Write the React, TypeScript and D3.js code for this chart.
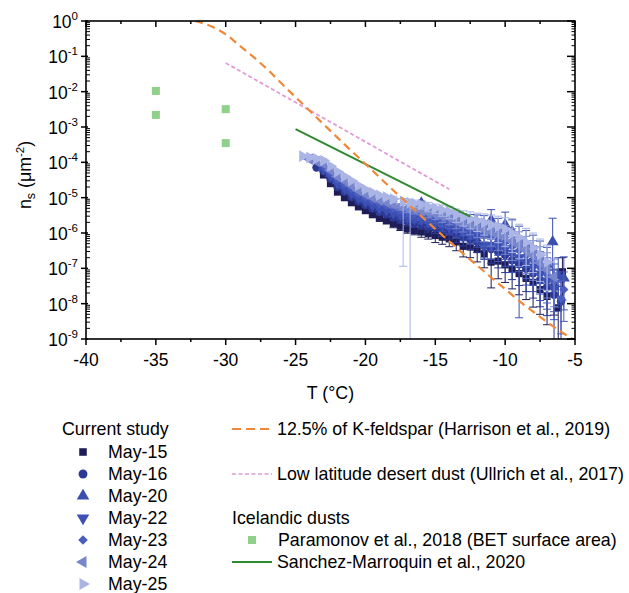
import * as d3 from 'd3';

// ---- data ------------------------------------------------------------
// [T (°C), ns (µm^-2), lower error (decades), upper error (decades)]
type Pt = [number, number, number?, number?];

const xTicks = [-40, -35, -30, -25, -20, -15, -10, -5];
const xMinorTicks = [-37.5, -32.5, -27.5, -22.5, -17.5, -12.5, -7.5];
const yExponents = [0, -1, -2, -3, -4, -5, -6, -7, -8, -9];

const may15: Pt[] = [
  [-23, 4.4e-5], [-22.5, 2.5e-5], [-22, 1.44e-5], [-21.5, 1.0e-5], [-21, 7.2e-6], [-20.5, 5.5e-6],
  [-20, 4.3e-6], [-19.5, 3.3e-6], [-19, 2.6e-6], [-18.5, 2.2e-6], [-18, 1.86e-6, 0.12, 0.1],
  [-17.5, 1.55e-6, 0.12, 0.1], [-17, 1.3e-6, 0.12, 0.1], [-16.5, 1.17e-6, 0.12, 0.1], [-16, 1.07e-6, 0.15, 0.1],
  [-15.5, 9.5e-7, 0.15, 0.1], [-15, 8.5e-7, 0.2, 0.15], [-14.5, 7.6e-7, 0.2, 0.15], [-14, 6.8e-7, 0.22, 0.15],
  [-13.5, 5.6e-7, 0.25, 0.18], [-13, 4.2e-7, 0.3, 0.2], [-12.5, 4.0e-7, 0.3, 0.2], [-12, 3.4e-7, 0.35, 0.25],
  [-11.5, 2.6e-7, 0.4, 0.3], [-11, 1.5e-7, 0.73, 0.4], [-10.5, 1.6e-7, 0.5, 0.35], [-10, 1.26e-7, 0.5, 0.35],
  [-9.5, 9.3e-8, 0.55, 0.4], [-9, 7.1e-8, 0.6, 0.4], [-8.5, 5.2e-8, 0.6, 0.4], [-8, 4.0e-8, 0.7, 0.45],
  [-7.5, 2.5e-8, 0.7, 0.45], [-7, 1.6e-8, 0.8, 0.5], [-6.5, 3.0e-8, 0.8, 0.5], [-6.2, 7.6e-9, 2, 0.6],
  [-5.9, 8.0e-8, 0.8, 0.4],
];

const may16: Pt[] = [
  [-23.5, 7.1e-5], [-23, 5.6e-5], [-22.5, 3.4e-5], [-22, 2.0e-5], [-21.5, 1.48e-5], [-21, 1.05e-5],
  [-20.5, 7.9e-6], [-20, 6.2e-6], [-19.5, 4.9e-6], [-19, 3.9e-6], [-18.5, 3.4e-6], [-18, 2.8e-6, 0.1, 0.08],
  [-17.5, 2.4e-6, 0.1, 0.08], [-17, 2.1e-6, 0.12, 0.1], [-16.5, 1.9e-6, 0.12, 0.1], [-16, 1.7e-6, 0.12, 0.1],
  [-15.5, 1.5e-6, 0.15, 0.12], [-15, 1.35e-6, 0.15, 0.12], [-14.5, 1.2e-6, 0.18, 0.14], [-14, 1.07e-6, 0.2, 0.15],
  [-13.5, 8.9e-7, 0.22, 0.16], [-13, 7.6e-7, 0.25, 0.18], [-12.5, 6.5e-7, 0.28, 0.2], [-12, 5.6e-7, 0.3, 0.22],
  [-11.5, 4.4e-7, 0.35, 0.25], [-11, 3.5e-7, 0.4, 0.28], [-10.5, 2.9e-7, 0.45, 0.3], [-10, 2.4e-7, 0.5, 0.32],
  [-9.5, 1.7e-7, 0.55, 0.35], [-9, 1.3e-7, 0.6, 0.38], [-8.5, 9.8e-8, 0.65, 0.4], [-8, 7.2e-8, 0.7, 0.42],
  [-7.5, 4.6e-8, 0.75, 0.45], [-7, 2.9e-8, 0.8, 0.48], [-6.5, 1.8e-8, 1.5, 0.5], [-6, 1.15e-8, 1.2, 0.55],
];

const may20: Pt[] = [
  [-23, 7.5e-5], [-22.5, 4.8e-5], [-22, 3.0e-5], [-21.5, 2.2e-5], [-21, 1.6e-5], [-20.5, 1.23e-5],
  [-20, 9.3e-6], [-19.5, 7.6e-6], [-19, 6.2e-6], [-18.5, 5.4e-6], [-18, 4.7e-6, 0.1, 0.08],
  [-17.5, 4.0e-6, 0.1, 0.08], [-17, 3.9e-6, 0.12, 0.1], [-16.5, 4.0e-6, 0.12, 0.1], [-16, 7.0e-6, 0.15, 0.06],
  [-15.5, 3.7e-6, 0.15, 0.12], [-15, 3.4e-6, 0.15, 0.12], [-14.5, 3.2e-6, 0.18, 0.14], [-14, 3.0e-6, 0.2, 0.15],
  [-13.5, 2.6e-6, 0.22, 0.16], [-13, 2.3e-6, 0.25, 0.18], [-12.5, 2.1e-6, 0.28, 0.2], [-12, 1.95e-6, 0.3, 0.22],
  [-11.5, 1.74e-6, 0.35, 0.25], [-11, 2.3e-6, 0.4, 0.3], [-10.5, 1.3e-6, 0.45, 0.3], [-10, 1.7e-6, 0.5, 0.36],
  [-9.5, 1.1e-6, 0.55, 0.35], [-9, 6.5e-7, 0.6, 0.38], [-8.5, 4.7e-7, 0.65, 0.4], [-8, 3.3e-7, 0.7, 0.42],
  [-7.5, 2.1e-7, 0.75, 0.45], [-7, 1.3e-7, 0.8, 0.48], [-6.6, 5.6e-7, 0.95, 0.67], [-6.2, 6.3e-8, 0.9, 0.5],
  [-5.8, 5.3e-8, 0.9, 0.6],
];

const may22: Pt[] = [
  [-23, 6.6e-5], [-22.5, 4.2e-5], [-22, 2.6e-5], [-21.5, 1.86e-5], [-21, 1.38e-5], [-20.5, 1.02e-5],
  [-20, 7.9e-6], [-19.5, 6.3e-6], [-19, 5.1e-6], [-18.5, 4.5e-6], [-18, 3.8e-6, 0.1, 0.08],
  [-17.5, 3.3e-6, 0.1, 0.08], [-17, 2.8e-6, 0.12, 0.1], [-16.5, 2.6e-6, 0.12, 0.1], [-16, 2.4e-6, 0.12, 0.1],
  [-15.5, 2.1e-6, 0.15, 0.12], [-15, 1.9e-6, 0.15, 0.12], [-14.5, 1.7e-6, 0.18, 0.14], [-14, 1.5e-6, 0.2, 0.15],
  [-13.5, 1.26e-6, 0.22, 0.16], [-13, 1.07e-6, 0.25, 0.18], [-12.5, 9.1e-7, 0.28, 0.2], [-12, 7.9e-7, 0.3, 0.22],
  [-11.5, 4.0e-7, 0.35, 0.25], [-11, 4.5e-7, 0.4, 0.28], [-10.5, 4.4e-7, 0.45, 0.3], [-10, 3.6e-7, 0.5, 0.32],
  [-9.5, 2.7e-7, 0.55, 0.35], [-9, 2.0e-7, 1.7, 0.4], [-8.5, 1.5e-7, 0.65, 0.4], [-8, 1.1e-7, 0.7, 0.42],
  [-7.5, 6.9e-8, 0.75, 0.45], [-7, 4.4e-8, 0.8, 0.48], [-6.5, 2.8e-8, 0.9, 0.5],
];

const may23: Pt[] = [
  [-23, 7.9e-5], [-22.5, 5.1e-5], [-22, 3.3e-5], [-21.5, 2.4e-5], [-21, 1.8e-5], [-20.5, 1.3e-5],
  [-20, 1.02e-5], [-19.5, 8.3e-6], [-19, 6.8e-6], [-18.5, 5.9e-6], [-18, 5.1e-6, 0.1, 0.08],
  [-17.5, 4.5e-6, 0.1, 0.08], [-17, 3.9e-6, 0.12, 0.1], [-16.5, 3.5e-6, 0.12, 0.1], [-16, 3.3e-6, 0.12, 0.1],
  [-15.5, 3.0e-6, 0.15, 0.12], [-15, 2.6e-6, 0.15, 0.12], [-14.5, 2.3e-6, 0.18, 0.14], [-14, 2.1e-6, 0.2, 0.15],
  [-13.5, 1.74e-6, 0.22, 0.16], [-13, 1.5e-6, 0.25, 0.18], [-12.5, 1.3e-6, 0.28, 0.2], [-12, 1.12e-6, 0.3, 0.22],
  [-11.5, 9.3e-7, 0.35, 0.25], [-11, 7.8e-7, 0.4, 0.28], [-10.5, 6.6e-7, 0.45, 0.3], [-10, 5.6e-7, 0.5, 0.32],
  [-9.5, 4.2e-7, 0.55, 0.35], [-9, 3.2e-7, 0.6, 0.38], [-8.5, 2.3e-7, 0.65, 0.4], [-8, 1.66e-7, 0.7, 0.42],
  [-7.5, 1.05e-7, 0.75, 0.45], [-7, 6.6e-8, 0.8, 0.48], [-6.5, 4.2e-8, 0.85, 0.5], [-6, 1.4e-8, 1.0, 0.5],
  [-5.8, 2.5e-8, 0.9, 0.5],
];

const may24: Pt[] = [
  [-24, 1.23e-4], [-23.5, 1.05e-4], [-23, 9.1e-5], [-22.5, 6.0e-5], [-22, 4.0e-5], [-21.5, 3.0e-5],
  [-21, 2.2e-5], [-20.5, 1.6e-5], [-20, 1.26e-5], [-19.5, 1.02e-5], [-19, 8.5e-6], [-18.5, 7.4e-6],
  [-18, 6.5e-6, 0.1, 0.08], [-17.5, 5.6e-6, 0.1, 0.08], [-17, 5.0e-6, 0.12, 0.1], [-16.5, 4.6e-6, 0.12, 0.1],
  [-16, 4.3e-6, 0.12, 0.1], [-15.5, 3.8e-6, 0.15, 0.12], [-15, 3.4e-6, 0.15, 0.12], [-14.5, 3.0e-6, 0.18, 0.14],
  [-14, 2.7e-6, 0.2, 0.15], [-13.5, 2.2e-6, 0.22, 0.16], [-13, 1.9e-6, 0.25, 0.18], [-12.5, 1.7e-6, 0.28, 0.2],
  [-12, 1.5e-6, 0.3, 0.22], [-11.5, 1.26e-6, 0.35, 0.25], [-11, 1.07e-6, 0.4, 0.28], [-10.5, 9.1e-7, 0.45, 0.3],
  [-10, 7.9e-7, 0.5, 0.32], [-9.5, 5.9e-7, 0.55, 0.35], [-9, 4.5e-7, 0.6, 0.38], [-8.5, 3.2e-7, 0.65, 0.4],
  [-8, 2.3e-7, 0.7, 0.42], [-7.5, 1.45e-7, 0.75, 0.45], [-7, 9.1e-8, 0.8, 0.48], [-6.5, 5.8e-8, 0.85, 0.5],
];

const may25: Pt[] = [
  [-24.5, 1.5e-4], [-24, 1.38e-4], [-23.5, 1.26e-4], [-23, 1.12e-4], [-22.5, 7.8e-5], [-22, 5.4e-5],
  [-21.5, 4.0e-5], [-21, 3.0e-5], [-20.5, 2.2e-5], [-20, 1.7e-5], [-19.5, 1.4e-5], [-19, 1.17e-5],
  [-18.5, 1.05e-5], [-18, 9.1e-6, 0.1, 0.08], [-17.3, 7.9e-6, 1.84, 0.08], [-16.8, 7.2e-6, 9, 0.1],
  [-16.5, 6.8e-6, 0.12, 0.1], [-16, 6.3e-6, 0.12, 0.1], [-15.5, 5.6e-6, 0.15, 0.12], [-15, 5.0e-6, 0.15, 0.12],
  [-14.5, 4.5e-6, 0.18, 0.14], [-14, 4.0e-6, 0.2, 0.15], [-13.5, 3.3e-6, 0.22, 0.16], [-13, 2.8e-6, 0.25, 0.18],
  [-12.5, 2.5e-6, 0.28, 0.2], [-12, 2.2e-6, 0.3, 0.22], [-11.5, 1.95e-6, 0.35, 0.25], [-11, 1.7e-6, 0.4, 0.28],
  [-10.5, 1.5e-6, 0.45, 0.3], [-10, 1.3e-6, 0.5, 0.32], [-9.5, 1.0e-6, 0.55, 0.35], [-9, 7.4e-7, 0.6, 0.38],
  [-8.5, 5.4e-7, 0.65, 0.4], [-8, 3.8e-7, 0.7, 0.42], [-7.5, 2.4e-7, 0.75, 0.45], [-7, 1.5e-7, 0.8, 0.48],
];

// 12.5% of K-feldspar (Harrison et al., 2019)
const kFeldspar: [number, number][] = [
  [-32.2, 1.0], [-31, 0.7], [-30, 0.42], [-29, 0.2], [-28, 0.095], [-27, 0.042], [-26, 0.017],
  [-25, 7e-3], [-24, 2.9e-3], [-23, 1.2e-3], [-22, 5e-4], [-21, 2.1e-4], [-20, 9e-5], [-19, 3.8e-5],
  [-18, 1.6e-5], [-17, 7e-6], [-16, 3e-6], [-15, 1.3e-6], [-14, 5.8e-7], [-13, 2.6e-7], [-12, 1.2e-7],
  [-11, 5.5e-8], [-10, 2.6e-8], [-9, 1.2e-8], [-8, 6e-9], [-7, 3e-9], [-6, 1.6e-9], [-5, 9e-10],
];

// Low latitude desert dust (Ullrich et al., 2017)
const ullrich: [number, number][] = [
  [-30, 6.5e-2], [-26, 8.3e-3], [-22, 1.07e-3], [-18, 1.35e-4], [-14, 1.74e-5],
];

// Sanchez-Marroquin et al., 2020
const sanchez: [number, number][] = [
  [-25, 8.7e-4], [-21, 1.4e-4], [-17, 2.25e-5], [-12.5, 2.9e-6],
];

// Paramonov et al., 2018 (BET surface area)
const paramonov: [number, number][] = [
  [-35, 1.05e-2], [-35, 2.2e-3], [-30, 3.2e-3], [-30, 3.5e-4],
];

type Shape = 'square' | 'circle' | 'up' | 'down' | 'diamond' | 'left' | 'right';

const studySeries: { name: string; data: Pt[]; color: string; shape: Shape }[] = [
  { name: 'May-15', data: may15, color: '#1e1d58', shape: 'square' },
  { name: 'May-16', data: may16, color: '#2b3894', shape: 'circle' },
  { name: 'May-20', data: may20, color: '#3b4fb0', shape: 'up' },
  { name: 'May-22', data: may22, color: '#3d50b4', shape: 'down' },
  { name: 'May-23', data: may23, color: '#4b5ec0', shape: 'diamond' },
  { name: 'May-24', data: may24, color: '#7886cc', shape: 'left' },
  { name: 'May-25', data: may25, color: '#aab5e6', shape: 'right' },
];

// ---- layout ----------------------------------------------------------

const WIDTH = 629;
const HEIGHT = 593;
const PLOT = { left: 86, right: 575, top: 21, bottom: 339 };
const FONT = "'Liberation Sans', Arial, sans-serif";

const ORANGE = '#f0883a';
const PINK = '#e29ad8';
const GREEN = '#2f8a2f';
const LIGHT_GREEN = '#8fd08a';

const x = d3.scaleLinear().domain([-40, -5]).range([PLOT.left, PLOT.right]);
const y = d3.scaleLog().domain([1e-9, 1]).range([PLOT.bottom, PLOT.top]);

const shapeDefs: Record<Shape, { type: d3.SymbolType; size: number; rot: number }> = {
  square: { type: d3.symbolSquare, size: 52, rot: 0 },
  circle: { type: d3.symbolCircle, size: 56, rot: 0 },
  up: { type: d3.symbolTriangle, size: 62, rot: 0 },
  down: { type: d3.symbolTriangle, size: 62, rot: 180 },
  diamond: { type: d3.symbolSquare, size: 42, rot: 45 },
  left: { type: d3.symbolTriangle, size: 58, rot: -90 },
  right: { type: d3.symbolTriangle, size: 58, rot: 90 },
};

function Marker({ shape, cx, cy, color, scale = 1 }: { shape: Shape; cx: number; cy: number; color: string; scale?: number }) {
  const s = shapeDefs[shape];
  const d = d3.symbol().type(s.type).size(s.size * scale)() || '';
  return <path d={d} transform={`translate(${cx},${cy}) rotate(${s.rot})`} fill={color} />;
}

const kLine = d3
  .line<[number, number]>()
  .x((d) => x(d[0]))
  .y((d) => y(d[1]))
  .curve(d3.curveMonotoneX);

const straight = d3
  .line<[number, number]>()
  .x((d) => x(d[0]))
  .y((d) => y(d[1]));

export default function App() {
  const yMinor: number[] = [];
  for (let e = -9; e < 0; e++) for (let k = 2; k <= 9; k++) yMinor.push(k * Math.pow(10, e));

  const legendRows = [452, 474, 496, 518, 540, 562, 584];

  return (
    <svg
      width={WIDTH}
      height={HEIGHT}
      style={{ position: 'absolute', left: 0, top: 0, background: '#fff' }}
      fontFamily={FONT}
    >
      <defs>
        <clipPath id="plot-clip">
          <rect x={PLOT.left} y={PLOT.top} width={PLOT.right - PLOT.left} height={PLOT.bottom - PLOT.top} />
        </clipPath>
      </defs>

      {/* data */}
      <g clipPath="url(#plot-clip)">
        {paramonov.map((d, i) => (
          <rect key={i} x={x(d[0]) - 4} y={y(d[1]) - 4} width={8} height={8} fill={LIGHT_GREEN} />
        ))}

        {studySeries.map((s) => (
          <g key={s.name}>
            {s.data
              .filter((p) => p[2] !== undefined)
              .map((p, i) => {
                const cx = x(p[0]);
                const lo = y(Math.max(p[1] / Math.pow(10, p[2]!), 1e-10));
                const hi = y(p[1] * Math.pow(10, p[3]!));
                return (
                  <g key={i} stroke={s.color} strokeWidth={1} fill="none">
                    <line x1={cx} x2={cx} y1={lo} y2={hi} />
                    <line x1={cx - 4} x2={cx + 4} y1={lo} y2={lo} />
                    <line x1={cx - 4} x2={cx + 4} y1={hi} y2={hi} />
                  </g>
                );
              })}
            {s.data.map((p, i) => (
              <Marker key={i} shape={s.shape} cx={x(p[0])} cy={y(p[1])} color={s.color} />
            ))}
          </g>
        ))}

        <path d={straight(ullrich) || ''} fill="none" stroke={PINK} strokeWidth={1.8} strokeDasharray="4 2.5" />
        <path d={straight(sanchez) || ''} fill="none" stroke={GREEN} strokeWidth={2} />
        <path d={kLine(kFeldspar) || ''} fill="none" stroke={ORANGE} strokeWidth={2.2} strokeDasharray="8 5" />
      </g>

      {/* frame */}
      <rect
        x={PLOT.left}
        y={PLOT.top}
        width={PLOT.right - PLOT.left}
        height={PLOT.bottom - PLOT.top}
        fill="none"
        stroke="#000"
        strokeWidth={1.6}
      />

      {/* x ticks */}
      <g stroke="#000" strokeWidth={1.5}>
        {xTicks.map((t) => (
          <g key={t}>
            <line x1={x(t)} x2={x(t)} y1={PLOT.bottom} y2={PLOT.bottom + 6} />
            <line x1={x(t)} x2={x(t)} y1={PLOT.top} y2={PLOT.top + 6} />
          </g>
        ))}
        {xMinorTicks.map((t) => (
          <g key={t}>
            <line x1={x(t)} x2={x(t)} y1={PLOT.bottom} y2={PLOT.bottom + 3} />
            <line x1={x(t)} x2={x(t)} y1={PLOT.top} y2={PLOT.top + 3} />
          </g>
        ))}
      </g>

      {/* y ticks */}
      <g stroke="#000" strokeWidth={1.5}>
        {yExponents.map((e) => {
          const yy = y(Math.pow(10, e));
          return (
            <g key={e}>
              <line x1={PLOT.left - 5} x2={PLOT.left + 2} y1={yy} y2={yy} />
              <line x1={PLOT.right - 8} x2={PLOT.right} y1={yy} y2={yy} />
            </g>
          );
        })}
        {yMinor.map((v, i) => (
          <g key={i} strokeWidth={1}>
            <line x1={PLOT.left} x2={PLOT.left + 4} y1={y(v)} y2={y(v)} />
            <line x1={PLOT.right - 3.5} x2={PLOT.right} y1={y(v)} y2={y(v)} />
          </g>
        ))}
      </g>

      {/* tick labels */}
      <g fontSize={17.5} fill="#000">
        {xTicks.map((t) => (
          <text key={t} x={x(t)} y={PLOT.bottom + 27} textAnchor="middle">
            {t}
          </text>
        ))}
        {yExponents.map((e) => (
          <text key={e} x={78} y={y(Math.pow(10, e)) + 7} textAnchor="end">
            10
            <tspan fontSize={11.5} dy={-8}>
              {e}
            </tspan>
          </text>
        ))}
      </g>

      {/* axis titles */}
      <text x={(PLOT.left + PLOT.right) / 2} y={399} textAnchor="middle" fontSize={17.8}>
        T (°C)
      </text>
      <text transform="translate(31,175) rotate(-90)" textAnchor="middle" fontSize={17.8}>
        n
        <tspan fontSize={12.5} dy={4}>
          s
        </tspan>
        <tspan dy={-4}> (μm</tspan>
        <tspan fontSize={11.5} dy={-7}>
          -2
        </tspan>
        <tspan dy={7}>)</tspan>
      </text>

      {/* legend: current study */}
      <g fontSize={17.8}>
        <text x={62} y={435}>
          Current study
        </text>
        {studySeries.map((s, i) => (
          <g key={s.name}>
            <Marker shape={s.shape} cx={83} cy={legendRows[i]} color={s.color} scale={1.1} />
            <text x={108} y={legendRows[i] + 6}>
              {s.name}
            </text>
          </g>
        ))}

        {/* legend: reference curves */}
        <line x1={232} x2={272} y1={429} y2={429} stroke={ORANGE} strokeWidth={2} strokeDasharray="9 5" />
        <text x={277} y={435}>
          12.5% of K-feldspar (Harrison et al., 2019)
        </text>
        <line x1={232} x2={272} y1={474} y2={474} stroke={PINK} strokeWidth={1.6} strokeDasharray="4 2.5" />
        <text x={277} y={480}>
          Low latitude desert dust (Ullrich et al., 2017)
        </text>
        <text x={232} y={524}>
          Icelandic dusts
        </text>
        <rect x={248} y={536} width={8} height={8} fill={LIGHT_GREEN} />
        <text x={278} y={546}>
          Paramonov et al., 2018 (BET surface area)
        </text>
        <line x1={232} x2={272} y1={562} y2={562} stroke={GREEN} strokeWidth={2} />
        <text x={277} y={568}>
          Sanchez-Marroquin et al., 2020
        </text>
      </g>
    </svg>
  );
}
